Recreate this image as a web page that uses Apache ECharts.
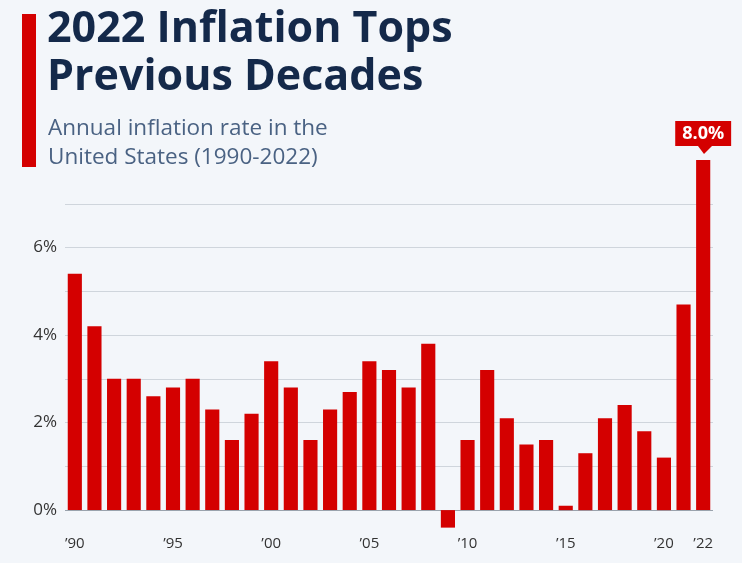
<!DOCTYPE html>
<html>
<head>
<meta charset="utf-8">
<script src="https://cdn.jsdelivr.net/npm/echarts@6/dist/echarts.min.js"></script>
<style>
  html, body { margin: 0; padding: 0; background: #f3f6fa; }
  #main { width: 742px; height: 563px; }
</style>
</head>
<body>
<div id="main"></div>
<script>
var years = [];
for (var y = 1990; y <= 2022; y++) years.push(String(y));
var inflation = [5.4, 4.2, 3.0, 3.0, 2.6, 2.8, 3.0, 2.3, 1.6, 2.2, 3.4, 2.8, 1.6, 2.3, 2.7,
    3.4, 3.2, 2.8, 3.8, -0.4, 1.6, 3.2, 2.1, 1.5, 1.6, 0.1, 1.3, 2.1, 2.4, 1.8, 1.2, 4.7, 8.0];
var shownYears = ['1990', '1995', '2000', '2005', '2010', '2015', '2020', '2022'];

var barData = inflation.map(function (v, i) {
    if (i === inflation.length - 1) {
        return {
            value: v,
            label: {
                show: true, position: 'top', distance: 14,
                formatter: '8.0%', color: '#fff', fontWeight: 'bold', fontSize: 18,
                backgroundColor: '#d40000', padding: [4, 7, 3, 7],
                fontFamily: 'Open Sans'
            }
        };
    }
    return v;
});

// split line colours: -0.5 .. 8 in 0.5 steps, only whole numbers visible
var splitColors = [];
for (var k = 0; k <= 17; k++) {
    if (k === 1) splitColors.push('#9aa3ad');
    else if (k % 2 === 1 && k < 17) splitColors.push('#cfd5dc');
    else splitColors.push('transparent');
}

var chart = echarts.init(document.getElementById('main'));
chart.setOption({
    backgroundColor: '#f3f6fa',
    graphic: [
        { type: 'rect', shape: { x: 22, y: 14, width: 14, height: 153 }, style: { fill: '#d40000' } },
        { type: 'text', left: 47, top: 6, style: { text: '2022 Inflation Tops\nPrevious Decades', fill: '#14294a', font: 'bold 43px "Open Sans"', lineHeight: 48 } },
        { type: 'text', left: 48, top: 114, style: { text: 'Annual inflation rate in the\nUnited States (1990-2022)', fill: '#4a6283', font: '22.5px "Open Sans"', lineHeight: 29 } },
        { type: 'polygon', shape: { points: [[698, 146], [712, 146], [704, 154]] }, style: { fill: '#d40000' } }
    ],
    grid: { left: 65, right: 29, top: 160, bottom: 31, outerBoundsMode: 'none', containLabel: false },
    xAxis: {
        type: 'category',
        data: years,
        axisLine: { show: false },
        axisTick: { show: false },
        axisLabel: {
            interval: 0, margin: 4, color: '#333', fontSize: 15, fontFamily: 'Open Sans',
            formatter: function (v) { return shownYears.indexOf(v) >= 0 ? '\u2019' + v.slice(2) : ''; }
        }
    },
    yAxis: {
        type: 'value', min: -0.5, max: 8, interval: 0.5,
        axisLabel: {
            color: '#333', fontSize: 17, fontFamily: 'Open Sans', margin: 8,
            formatter: function (v) { return (v >= 0 && v <= 6 && v % 2 === 0) ? v + '%' : ''; }
        },
        splitLine: { lineStyle: { color: splitColors } }
    },
    series: [{
        type: 'bar',
        data: barData,
        barCategoryGap: '28%',
        itemStyle: { color: '#d40000' }
    }]
});
</script>
</body>
</html>
